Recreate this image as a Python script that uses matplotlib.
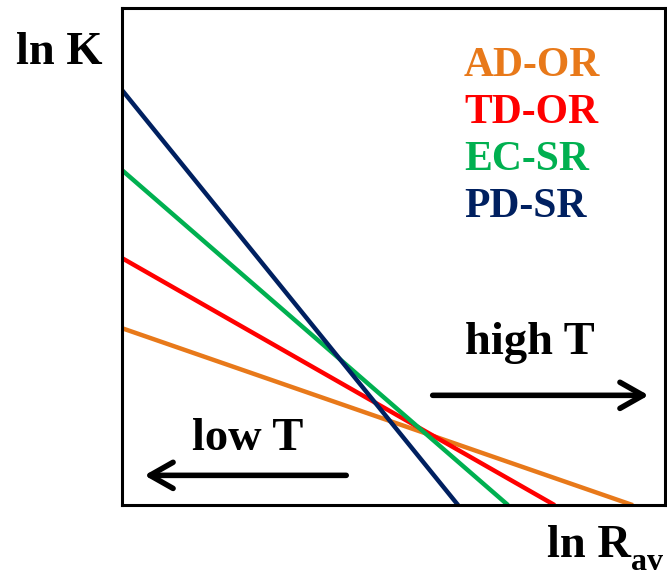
"""ln K vs ln R_av schematic for the four growth mechanisms."""

import matplotlib
matplotlib.use('Agg')

import matplotlib.pyplot as plt

# lines run from the left axis (x = 0) down to the bottom axis (y = 0)
series = ['AD-OR', 'TD-OR', 'EC-SR', 'PD-SR']
y_left = [3.56, 4.97, 6.74, 8.35]
x_bottom = [9.41, 7.97, 7.11, 6.19]
colors = ['#E8791A', '#FF0000', '#00B050', '#002060']

plt.rcParams['font.family'] = ['Liberation Serif', 'DejaVu Serif']
plt.rcParams['font.weight'] = 'bold'

fig = plt.figure(figsize=(6.67, 5.8), dpi=100)
ax = fig.add_axes([0.183, 0.129, 0.814, 0.857])

for name, y0, x1, c in zip(series, y_left, x_bottom, colors):
    ax.plot([0, x1], [y0, 0], color=c, lw=3.2, solid_capstyle='butt')

ax.set_xlim(0, 10)
ax.set_ylim(0, 10)
ax.set_xticks([])
ax.set_yticks([])
for s in ax.spines.values():
    s.set_linewidth(2.2)

# legend as coloured text
legend_y = [0.863, 0.769, 0.674, 0.579]
for name, c, ly in zip(series, colors, legend_y):
    ax.text(0.630, ly, name, color=c, fontsize=30, fontweight='bold',
            transform=ax.transAxes, ha='left', va='baseline')

# temperature arrows
ax.annotate('', xy=(0.975, 0.221), xytext=(0.567, 0.221), xycoords='axes fraction',
            arrowprops=dict(arrowstyle='->, head_length=0.83, head_width=0.47',
                            lw=4, color='black', mutation_scale=20))
ax.annotate('', xy=(0.036, 0.060), xytext=(0.418, 0.060), xycoords='axes fraction',
            arrowprops=dict(arrowstyle='->, head_length=0.83, head_width=0.47',
                            lw=4, color='black', mutation_scale=20))
ax.text(0.632, 0.304, 'high T', fontsize=33.5, fontweight='bold',
        transform=ax.transAxes, ha='left', va='baseline')
ax.text(0.129, 0.111, 'low T', fontsize=33.5, fontweight='bold',
        transform=ax.transAxes, ha='left', va='baseline')

# axis labels
ax.text(-0.195, 0.887, 'ln K', fontsize=33.5, fontweight='bold',
        transform=ax.transAxes, ha='left', va='baseline', clip_on=False)
ax.text(0.783, -0.105, 'ln R', fontsize=33.5, fontweight='bold',
        transform=ax.transAxes, ha='left', va='baseline', clip_on=False)
ax.text(0.938, -0.130, 'av', fontsize=23, fontweight='bold',
        transform=ax.transAxes, ha='left', va='baseline', clip_on=False)

plt.savefig('out.png', dpi=100)
